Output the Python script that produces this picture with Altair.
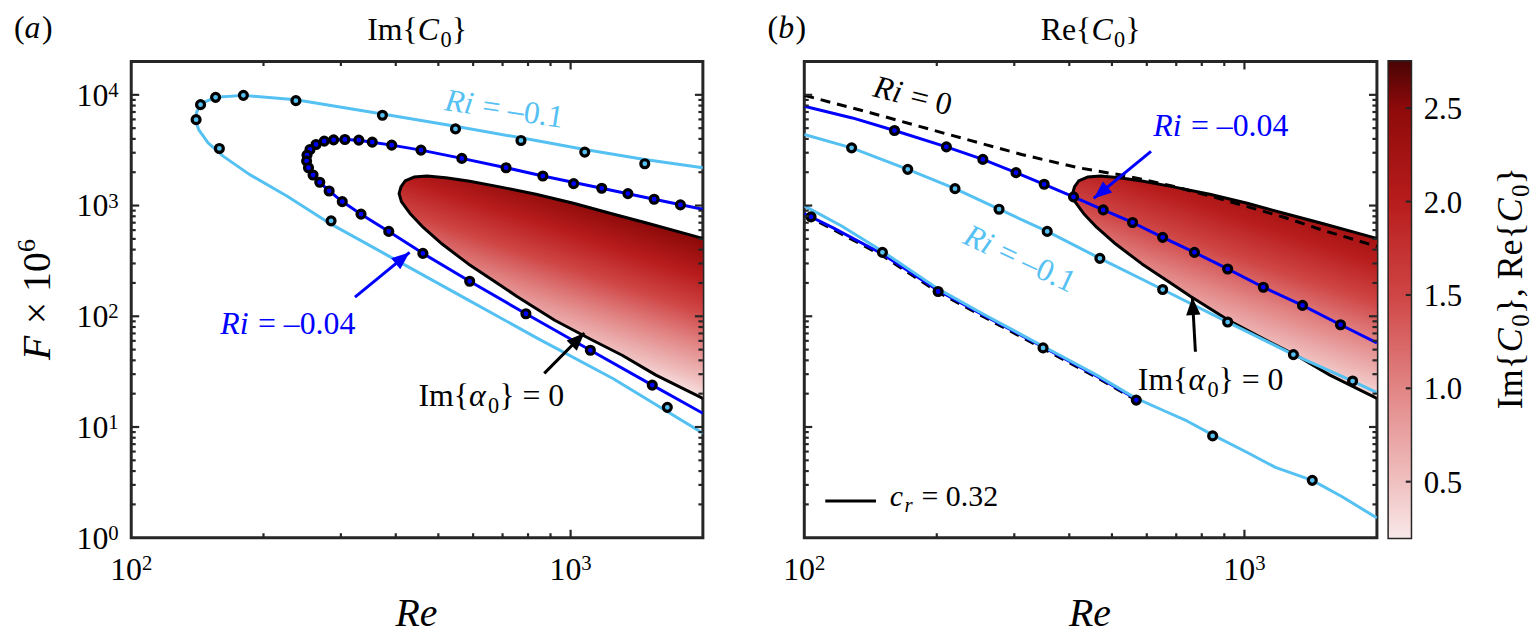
import altair as alt
import pandas as pd

# ---------------------------------------------------------------- values
# neutral curve Im{alpha_0} = 0 (same in both panels): upper branch from the
# right edge, round the nose, lower branch back to the right edge
neutral_re = [2000, 1504, 1235, 1015, 834, 685, 585, 520, 471, 440, 420, 411, 407,
              412, 431, 462, 510, 585, 685, 755, 920, 1119, 1310, 1564, 2000]
neutral_f = [505, 689, 848, 1050, 1265, 1482, 1667, 1785, 1848, 1810, 1667, 1472, 1282,
             1086, 848, 634, 449, 297, 196, 151, 92, 61, 44.5, 29.4, 18.1]

# (a) Im{C0} = 0 contours, Ri = -0.1
a_sky_re = [2000, 1475, 1077, 771, 547, 373, 237, 180, 155.6, 145.3, 141.1, 139.9, 142.4,
            149.6, 161.8, 185.7, 226, 285, 384, 569, 843, 1248, 2000]
a_sky_f = [2198, 2610, 3211, 4089, 5205, 6721, 9044, 9890, 9490, 8440, 7100, 5975, 4860,
           3686, 2797, 1913, 1222, 679, 353, 149, 62.8, 27.4, 8.78]
a_sky_pts_re = [140.5, 143.8, 155.6, 180, 237, 373, 547, 771, 1077, 1475, 158.7, 285, 1660]
a_sky_pts_f = [5970, 8152, 9490, 9890, 8858, 6537, 4927, 3869, 3039, 2386, 3278, 728, 15.05]

# (a) Ri = -0.04
a_blue_re = [2000, 1549, 1177, 864.6, 713, 565.5, 456.5, 391.6, 353.6, 329.6, 306.4, 288.8,
             275, 263.4, 255.2, 251.2, 250.7, 253.2, 259.3, 268.6, 282.1, 302.2, 333.4,
             385.6, 461.1, 589.2, 791.2, 1109, 1534, 2000]
a_blue_f = [927, 1140, 1432, 1848, 2197, 2666, 3167, 3512, 3737, 3896, 3950, 3923, 3816,
            3561, 3211, 2856, 2522, 2197, 1887, 1622, 1355, 1086, 836, 584, 370, 207,
            105.4, 49.3, 23.9, 13.3]
a_blue_pts_re = [1778, 1549, 1350, 1177, 1016, 864.6, 713, 565.5, 456.5, 391.6, 353.6,
                 329.6, 306.4, 288.8, 275, 263.4, 255.2, 251.2, 250.7, 253.2, 259.3, 268.6,
                 282.1, 302.2, 333.4, 385.6, 461.1, 589.2, 791.2, 1109, 1534]
a_blue_pts_f = [1014, 1140, 1282, 1432, 1577, 1848, 2197, 2666, 3167, 3512, 3737, 3896,
                3950, 3923, 3816, 3561, 3211, 2856, 2522, 2197, 1887, 1622, 1355, 1086,
                836, 584, 370, 207, 105.4, 49.3, 23.9]

# (b) Re{C0} = c_r contours, upper branches
b_zero_re = [100, 141.9, 210.3, 311.7, 418.8, 540.8, 684.5, 833.6, 1015, 1235, 1504, 2000]
b_zero_f = [9893, 6862, 4441, 2895, 2197, 1848, 1503, 1222, 979, 780, 600, 428]
b_blue_re = [100, 128.6, 160.3, 210.3, 254.5, 302.7, 350.8, 409, 477.7, 557, 652, 770,
             916, 1104, 1355, 1653, 2000]
b_blue_f = [7876, 6185, 4760, 3393, 2610, 1981, 1556, 1197, 914, 703.6, 516, 378, 267.6,
            183, 125.3, 83.9, 57.4]
b_sky_re = [100, 128.1, 171.8, 220, 277, 356.4, 469.4, 652, 916, 1292, 1761, 2000]
b_sky_f = [4380, 3323, 2123, 1422, 927, 584, 333.8, 174.4, 88.7, 45.1, 26.0, 20.4]

# (b) lower branches
b_zero_lo_re = [100, 116.6, 150.5, 201.4, 256, 348.7, 461.9, 567.9]
b_zero_lo_f = [824, 604, 352.7, 165.1, 98.4, 51.05, 28.0, 17.5]
b_blue_lo_re = [100, 116.6, 150.5, 201.4, 256, 348.7, 461.9, 567.9]
b_blue_lo_f = [848, 625.6, 365, 170.9, 101.8, 52.8, 28.8, 17.8]
b_sky_lo_re = [100, 121.3, 150.5, 201.4, 256, 348.7, 461.9, 567.9, 658.5, 740.6, 846.8,
               1015, 1176, 1426, 1660, 2000]
b_sky_lo_f = [993, 656.7, 385.8, 176.8, 103.9, 53.6, 29.4, 18.1, 13.95, 11.34, 8.485,
              5.886, 4.313, 3.296, 2.366, 1.511]

# (b) computed points
b_blue_pts_re = [160.3, 210.3, 254.5, 302.7, 350.8, 409, 477.7, 557, 652, 770, 916, 1104,
                 1355, 1653, 103.6, 201.4, 567.9]
b_blue_pts_f = [4760, 3393, 2610, 1981, 1556, 1197, 914, 703.6, 516, 378, 267.6, 183,
                125.3, 83.9, 791, 167.4, 17.5]
b_sky_pts_re = [128.1, 171.8, 220, 277, 356.4, 469.4, 652, 916, 1292, 1761, 150.5, 348.7,
                846.8, 1426]
b_sky_pts_f = [3323, 2123, 1422, 927, 584, 333.8, 174.4, 88.7, 45.1, 26.0, 378, 51.8,
               8.31, 3.296]

# axis ticks
x_major = [1000]
x_minor = [200, 300, 400, 500, 600, 700, 800, 900]
y_major = [10, 100, 1000, 10000]
y_minor = [m * d for d in (1, 10, 100, 1000) for m in range(2, 10)]
x_labels = [2, 3]
y_labels = [0, 1, 2, 3, 4]
cbar_ticks = [0.5, 1.0, 1.5, 2.0, 2.5]
cbar_range = [0.2, 2.75]

# colour map of Im{C0}, Re{C0}
cmap_values = [0.2, 0.5, 1.0, 1.5, 2.0, 2.5, 2.75]
cmap_colors = ["#f9e8e8", "#f0c0c0", "#e28585", "#cf4545", "#b81c1c", "#8e0a0a", "#4a0404"]

# ---------------------------------------------------------------- style
SERIF = "Liberation Serif"
INK = "#262626"
BLUE = "#0000ff"
SKY = "#55c1f2"
W, WB, H, CBW = 575, 576, 479, 22

xs = alt.Scale(type="log", domain=[100, 2000], nice=False)
ys = alt.Scale(type="log", domain=[1, 20000], nice=False)
cs = alt.Scale(type="linear", domain=cbar_range, nice=False, zero=False)
ONE = pd.DataFrame({"k": [0]})


def X():
    return alt.X("Re:Q", scale=xs, axis=None)


def Y():
    return alt.Y("F:Q", scale=ys, axis=None)


def curve(re, f, color, width=3, **kw):
    df = pd.DataFrame({"Re": re, "F": f, "i": list(range(len(re)))})
    return alt.Chart(df).mark_line(color=color, strokeWidth=width, clip=True,
                                   strokeJoin="round", **kw).encode(x=X(), y=Y(), order="i:Q")


def dots(re, f, color):
    df = pd.DataFrame({"Re": re, "F": f})
    return alt.Chart(df).mark_point(shape="circle", filled=True, fill=color, stroke="black",
                                    strokeWidth=3.2, size=64, opacity=1, clip=True
                                    ).encode(x=X(), y=Y())


def region(stops):
    df = pd.DataFrame({"Re": neutral_re, "F": neutral_f, "i": list(range(len(neutral_re)))})
    grad = alt.LinearGradient(
        gradient="linear",
        stops=[alt.GradientStop(offset=o, color=c) for o, c in stops],
        x1=0.397, y1=0.729, x2=0.666, y2=0.131)
    return alt.Chart(df).mark_line(fill=grad, stroke="black", strokeWidth=3, clip=True,
                                   strokeJoin="round").encode(x=X(), y=Y(), order="i:Q")


def arrow(re0, f0, re1, f1, angle, color):
    shaft = alt.Chart(pd.DataFrame({"Re": [re0], "F": [f0], "Re2": [re1], "F2": [f1]})
                      ).mark_rule(color=color, strokeWidth=3).encode(
        x=X(), y=Y(), x2="Re2:Q", y2="F2:Q")
    head = alt.Chart(pd.DataFrame({"Re": [re1], "F": [f1]})).mark_point(
        shape="M0,0 L-0.8,2 L0.8,2 Z", size=324, filled=True, color=color, opacity=1,
        angle=angle).encode(x=X(), y=Y())
    return [shaft, head]


# Times-compatible advance widths (em)
REG = {" ": 0.25, "(": 0.333, ")": 0.333, ",": 0.25, ".": 0.25, "=": 0.564, "{": 0.48,
       "}": 0.48, "\u00d7": 0.564, "\u2013": 0.5, "I": 0.333, "m": 0.778, "R": 0.667,
       "e": 0.444, "C": 0.667, "F": 0.556, "a": 0.444, "b": 0.5, "c": 0.444, "r": 0.333,
       "i": 0.278, "\u03b1": 0.55}
ITA = {"R": 0.611, "i": 0.278, "e": 0.444, "C": 0.667, "F": 0.611, "a": 0.5, "b": 0.5,
       "c": 0.444, "r": 0.389, "\u03b1": 0.55}


def tw(s, size, italic):
    table = ITA if italic else REG
    return sum(0.5 if ch.isdigit() else table.get(ch, REG.get(ch, 0.5)) for ch in s) * size


def rich(runs, size, re=None, f=None, x=None, y=None, yenc=None, angle=0, anchor="left",
         color="black", dy0=0):
    """Runs of (text, italic, scale, raise) set side by side from one anchor."""
    widths = [tw(t, size * sc, it) + (1.5 if it else 0) for t, it, sc, rs in runs]
    total = sum(widths)
    if isinstance(anchor, str):
        start = {"left": 0, "center": -total / 2, "right": -total}[anchor]
    else:
        start = -sum(widths[:anchor])
    row, enc = {}, {}
    if re is not None:
        row["Re"] = [re]
        enc["x"] = X()
    else:
        enc["x"] = alt.value(x)
    if f is not None:
        row["F"] = [f]
        enc["y"] = yenc if yenc is not None else Y()
    else:
        enc["y"] = alt.value(y)
    df = pd.DataFrame(row) if row else ONE
    out, pos = [], start
    for (t, it, sc, rs), w in zip(runs, widths):
        # SVG drops leading blanks, so they become an offset instead
        body = t.lstrip(" ")
        lead = tw(t[: len(t) - len(body)], size * sc, False)
        out.append(alt.Chart(df).mark_text(
            text=body, font=SERIF, fontSize=round(size * sc, 1),
            fontStyle="italic" if it else "normal", align="left", baseline="alphabetic",
            dx=round(pos + lead, 1), dy=round(dy0 - rs, 1), angle=angle, color=color
        ).encode(**enc))
        pos += w
    return out


def frame_ticks(width):
    def xr(vals, y0, y1):
        return alt.Chart(pd.DataFrame({"Re": vals})).mark_rule(color=INK, strokeWidth=2.2).encode(
            x=X(), y=alt.value(y0), y2=alt.value(y1))

    def yr(vals, x0, x1):
        return alt.Chart(pd.DataFrame({"F": vals})).mark_rule(color=INK, strokeWidth=2.2).encode(
            y=Y(), x=alt.value(x0), x2=alt.value(x1))

    return [xr(x_major, H, H - 8), xr(x_minor, H, H - 4.5), xr(x_major, 0, 8), xr(x_minor, 0, 4.5),
            yr(y_major, 0, 8), yr(y_minor, 0, 4.5), yr(y_major, width, width - 8),
            yr(y_minor, width, width - 4.5)]


def x_tick_labels():
    out = []
    for k in x_labels:
        out += rich([("10", False, 1, 0), (str(k), False, 0.65, 11)], 32, re=10 ** k, y=H + 43,
                    anchor="center")
    return out


def sub_c0():
    return [("C", True, 1, 0), ("0", False, 0.7, -7)]


# ---------------------------------------------------------------- panel (a)
stops_a = [(0, "#f8e4e4"), (0.109, "#f0c0c0"), (0.326, "#e28585"), (0.543, "#cf4545"),
           (0.761, "#b81c1c"), (0.978, "#8e0a0a"), (1, "#880909")]
layers_a = [alt.Chart(ONE).mark_rule(opacity=0).encode(
    x=alt.value(-130), y=alt.value(-58), y2=alt.value(0))]
layers_a += [region(stops_a),
             curve(a_sky_re, a_sky_f, SKY), curve(a_blue_re, a_blue_f, BLUE),
             dots(a_sky_pts_re, a_sky_pts_f, SKY), dots(a_blue_pts_re, a_blue_pts_f, BLUE)]
layers_a += arrow(323, 149, 430, 377.6, 50.7, BLUE)
layers_a += arrow(871, 30.5, 1074.5, 70.7, 44.8, "black")
layers_a += frame_ticks(W)
layers_a += rich([("Ri", True, 1, 0), (" = \u20130.1", False, 1, 0)], 32, re=600.3, f=6657,
                 angle=8.7, anchor=1, color=SKY)
layers_a += rich([("Ri", True, 1, 0), (" = \u20130.04", False, 1, 0)], 32, re=186.3, f=69.7,
                 anchor=1, color=BLUE)
layers_a += rich([("Im{", False, 1, 0), ("\u03b1", True, 1, 0), ("0", False, 0.7, -7),
                  ("} = 0", False, 1, 0)], 32, re=450.6, f=15.32)
for k in y_labels:
    layers_a += rich([("10", False, 1, 0), (str(k), False, 0.65, 9)], 32, x=-23, f=10 ** k,
                     anchor=1, dy0=11)
layers_a += x_tick_labels()
layers_a += rich([("(", False, 1, 0), ("a", True, 1, 0), (")", False, 1, 0)], 32, x=-118, y=-24)
layers_a += rich([("Im{", False, 1, 0)] + sub_c0() + [("}", False, 1, 0)], 32, x=W / 2, y=-22,
                 anchor="center")
layers_a += rich([("Re", True, 1, 0)], 40, x=W / 2, y=568, anchor="center")
layers_a += rich([("F", True, 1, 0), (" \u00d7 10", False, 1, 0), ("6", False, 0.65, 15)], 40,
                 x=-82, y=H / 2, angle=270, anchor="center")
panel_a = alt.layer(*layers_a).properties(width=W, height=H)

# ---------------------------------------------------------------- panel (b)
stops_b = [(0, "#f7dede"), (0.1, "#f0c0c0"), (0.35, "#e28585"), (0.6, "#cf4545"),
           (0.85, "#b81c1c"), (1, "#a51313")]
layers_b = [region(stops_b),
            curve(b_zero_lo_re, b_zero_lo_f, "black", strokeDash=[10, 7]),
            curve(b_blue_lo_re, b_blue_lo_f, BLUE),
            curve(b_sky_lo_re, b_sky_lo_f, SKY),
            curve(b_zero_re, b_zero_f, "black", strokeDash=[10, 7]),
            curve(b_sky_re, b_sky_f, SKY),
            curve(b_blue_re, b_blue_f, BLUE),
            dots(b_sky_pts_re, b_sky_pts_f, SKY), dots(b_blue_pts_re, b_blue_pts_f, BLUE)]
layers_b += arrow(613.4, 3092, 454.6, 1160, 230.5, BLUE)
layers_b += arrow(773.8, 47.8, 761.4, 148.9, 356.9, "black")
layers_b += frame_ticks(WB)
layers_b += rich([("Ri", True, 1, 0), (" = 0", False, 1, 0)], 32, re=165.6, f=8395, angle=14,
                 anchor=1)
layers_b += rich([("Ri", True, 1, 0), (" = \u20130.04", False, 1, 0)], 32, re=725, f=4216,
                 anchor=1, color=BLUE)
layers_b += rich([("Ri", True, 1, 0), (" = \u20130.1", False, 1, 0)], 32, re=262.3, f=355.6,
                 angle=25, anchor=1, color=SKY)
layers_b += rich([("Im{", False, 1, 0), ("\u03b1", True, 1, 0), ("0", False, 0.7, -7),
                  ("} = 0", False, 1, 0)], 32, re=572.4, f=21.64)
# legend entry
layers_b.append(alt.Chart(pd.DataFrame({"Re": [111.6], "Re2": [145.5], "F": [2.148]})).mark_rule(
    color="black", strokeWidth=3).encode(x=X(), x2="Re2:Q", y=Y()))
layers_b += rich([("c", True, 1, 0), ("r", True, 0.7, -6), (" = 0.32", False, 1, 0)], 30,
                 re=156.4, f=1.938)
layers_b += x_tick_labels()
layers_b += rich([("(", False, 1, 0), ("b", True, 1, 0), (")", False, 1, 0)], 32, x=-37, y=-24)
layers_b += rich([("Re{", False, 1, 0)] + sub_c0() + [("}", False, 1, 0)], 32, x=WB / 2, y=-22,
                 anchor="center")
layers_b += rich([("Re", True, 1, 0)], 40, x=WB / 2, y=568, anchor="center")
panel_b = alt.layer(*layers_b).properties(width=WB, height=H)

# ---------------------------------------------------------------- colour bar
span = cbar_range[1] - cbar_range[0]
bar_grad = alt.LinearGradient(
    gradient="linear",
    stops=[alt.GradientStop(offset=round((v - cbar_range[0]) / span, 4), color=c)
           for v, c in zip(cmap_values, cmap_colors)],
    x1=0, y1=1, x2=0, y2=0)
CY = alt.Y("F:Q", scale=cs, axis=None)
layers_c = [alt.Chart(pd.DataFrame({"F": [cbar_range[0]], "F2": [cbar_range[1]]})).mark_rect(
    fill=bar_grad).encode(y=CY, y2="F2:Q", x=alt.value(0), x2=alt.value(CBW)),
    alt.Chart(pd.DataFrame({"F": cbar_ticks})).mark_rule(color=INK, strokeWidth=2.2).encode(
        y=CY, x=alt.value(CBW), x2=alt.value(CBW - 5))]
for v in cbar_ticks:
    layers_c += rich([(f"{v:.1f}", False, 1, 0)], 31, x=35, f=v, yenc=CY, dy0=11)
layers_c += rich([("Im{", False, 1, 0)] + sub_c0() + [("}, Re{", False, 1, 0)] + sub_c0()
                 + [("}", False, 1, 0)], 36, x=134, y=228, angle=270, anchor="center")
cbar = alt.layer(*layers_c).properties(width=CBW, height=H)

right = alt.hconcat(panel_b, cbar, spacing=12, bounds="flush")
chart = alt.hconcat(panel_a, right, spacing=102, bounds="flush").properties(
    padding=0, background="white"
).configure_view(stroke=INK, strokeWidth=3)

chart.save("out.html", embed_options={"renderer": "svg", "actions": False})
